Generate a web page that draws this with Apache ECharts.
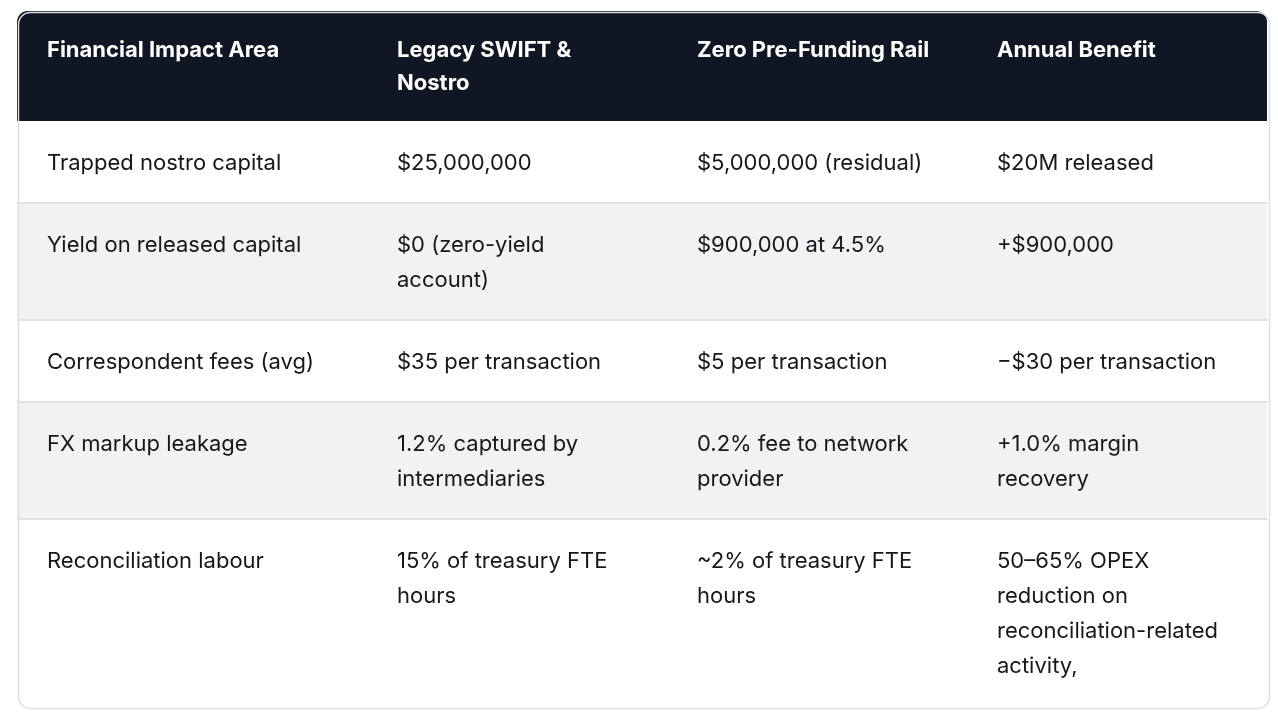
<!DOCTYPE html>
<html lang='en'>
  <head>
    <meta charset='utf-8'>
    <title>Financial impact table</title>
    <style>
      html, body { margin: 0; padding: 0; background: #fff; }
    </style>
  </head>
  <body>
    <div id="main" style="width:1278px;height:718px;"></div>

    <script src="https://cdn.jsdelivr.net/npm/echarts@6/dist/echarts.min.js"></script>
    <script>
      // table content
      var headers = ['Financial Impact Area', 'Legacy SWIFT &\nNostro', 'Zero Pre-Funding Rail', 'Annual Benefit'];
      var impactAreas = ['Trapped nostro capital', 'Yield on released capital', 'Correspondent fees (avg)', 'FX markup leakage', 'Reconciliation labour'];
      var legacySwift = ['$25,000,000', '$0 (zero-yield\naccount)', '$35 per transaction', '1.2% captured by\nintermediaries', '15% of treasury FTE\nhours'];
      var zeroPrefunding = ['$5,000,000 (residual)', '$900,000 at 4.5%', '$5 per transaction', '0.2% fee to network\nprovider', '~2% of treasury FTE\nhours'];
      var annualBenefit = ['$20M released', '+$900,000', '−$30 per transaction', '+1.0% margin\nrecovery', '50–65% OPEX\nreduction on\nreconciliation-related\nactivity,'];

      // layout
      var colWidths = [350, 300, 300, 300];
      var padX = 30;
      var headPad = 22, headLine = 33;
      var bodyPad = 23.5, bodyLine = 35;

      var columns = [impactAreas, legacySwift, zeroPrefunding, annualBenefit];
      var rows = [headers];
      for (var r = 0; r < impactAreas.length; r++) {
        rows.push(columns.map(function (c) { return c[r]; }));
      }

      function lineCount(s) { return s.split('\n').length; }

      var xEdges = [0];
      colWidths.forEach(function (w, i) { xEdges.push(xEdges[i] + w); });
      var yEdges = [0];
      rows.forEach(function (row, i) {
        var n = Math.max.apply(null, row.map(lineCount));
        var h = i === 0 ? headPad * 2 + n * headLine : bodyPad * 2 + n * bodyLine;
        yEdges.push(yEdges[i] + h);
      });
      var totalW = xEdges[xEdges.length - 1];
      var totalH = yEdges[yEdges.length - 1];

      var cells = [];
      rows.forEach(function (row, ri) {
        row.forEach(function (txt, ci) {
          cells.push([ci, ri, txt]);
        });
      });

      var nRows = rows.length;
      var nCols = colWidths.length;
      var R = 11;

      function renderCell(params, api) {
        var ci = api.value(0), ri = api.value(1);
        var txt = cells[params.dataIndex][2];
        var p0 = api.coord([xEdges[ci], yEdges[ri]]);
        var p1 = api.coord([xEdges[ci + 1], yEdges[ri + 1]]);
        var isHead = ri === 0;
        var fill = isHead ? '#101624' : (ri % 2 === 0 ? '#f2f2f2' : '#ffffff');
        var rad = [0, 0, 0, 0];
        if (ri === 0 && ci === 0) rad[0] = R;
        if (ri === 0 && ci === nCols - 1) rad[1] = R;
        if (ri === nRows - 1 && ci === nCols - 1) rad[2] = R;
        if (ri === nRows - 1 && ci === 0) rad[3] = R;

        var children = [{
          type: 'rect',
          shape: { x: p0[0], y: p0[1], width: p1[0] - p0[0] + (ci < nCols - 1 ? 0.5 : 0), height: p1[1] - p0[1] + (ri < nRows - 1 ? 0.5 : 0), r: rad },
          style: { fill: fill }
        }];
        if (ri > 1) {
          children.push({
            type: 'line',
            shape: { x1: p0[0], y1: p0[1], x2: p1[0] + 0.5, y2: p0[1] },
            style: { stroke: '#e2e2e2', lineWidth: 2 }
          });
        }
        children.push({
          type: 'text',
          x: p0[0] + padX,
          y: p0[1] + (isHead ? headPad : bodyPad) + 1,
          style: {
            text: txt,
            fill: isHead ? '#ffffff' : '#15171c',
            font: (isHead ? '700 22px' : '400 22px') + ' Inter, "Noto Sans", sans-serif',
            lineHeight: isHead ? headLine : bodyLine,
            verticalAlign: 'top',
            align: 'left'
          }
        });
        return { type: 'group', children: children };
      }

      var myChart = echarts.init(document.getElementById('main'));
      var option = {
        animation: false,
        backgroundColor: '#ffffff',
        grid: { left: 17, top: 11, width: totalW, height: totalH },
        xAxis: { type: 'value', min: 0, max: totalW, show: false },
        yAxis: { type: 'value', min: 0, max: totalH, inverse: true, show: false },
        graphic: [{
          type: 'rect',
          left: 16,
          top: 10,
          z: 100,
          silent: true,
          shape: { x: 0.5, y: 0.5, width: totalW + 1, height: totalH + 1, r: R + 1 },
          style: { fill: 'none', stroke: '#e0e0e0', lineWidth: 1.5 }
        }],
        series: [{
          type: 'custom',
          coordinateSystem: 'cartesian2d',
          renderItem: renderCell,
          data: cells,
          encode: { x: 0, y: 1 },
          clip: false
        }]
      };
      myChart.setOption(option);
    </script>
  </body>
</html>
